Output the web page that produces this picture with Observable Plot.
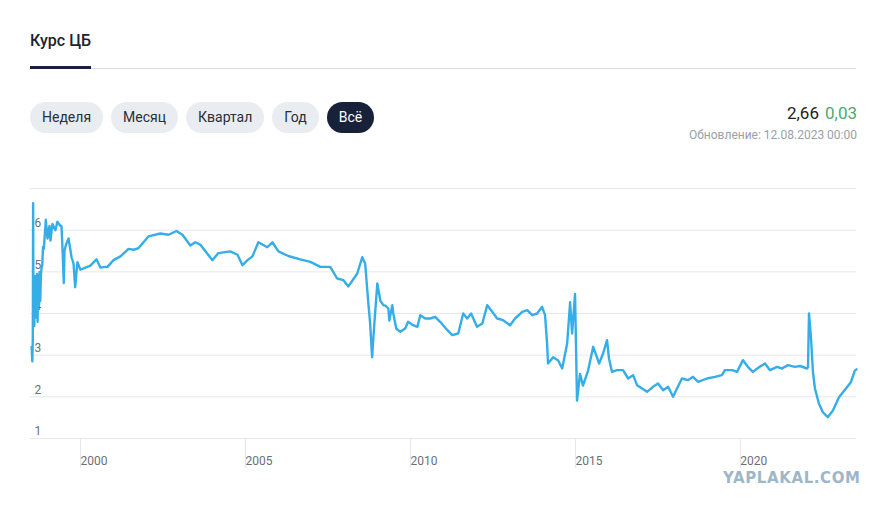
<!DOCTYPE html>
<html><head><meta charset="utf-8">
<script src="https://cdn.jsdelivr.net/npm/d3@7"></script>
<script src="https://cdn.jsdelivr.net/npm/@observablehq/plot@0.6"></script>
<style>
  html,body{margin:0;padding:0;background:#fff;}
  body{width:886px;height:510px;position:relative;overflow:hidden;font-family:Roboto,"Noto Sans",sans-serif;}
  .title{position:absolute;left:30px;top:31px;font-size:16px;font-weight:500;color:#1b2230;}
  .tabbar{position:absolute;left:30px;top:66px;width:61px;height:3px;background:#19223a;}
  .tabline{position:absolute;left:30px;top:68px;width:826px;height:1px;background:#dcdfe3;}
  .btns{position:absolute;left:30px;top:102px;display:flex;gap:8px;}
  .btn{height:31px;line-height:31px;padding:0 12px;border-radius:16px;background:#e9edf1;color:#2a2f38;font-size:14px;}
  .btn.active{background:#17213a;color:#fff;}
  .price{position:absolute;right:29px;top:103px;font-size:17px;color:#222;}
  .price .chg{color:#4caa6e;margin-left:6px;}
  .upd{position:absolute;right:29px;top:128px;font-size:12px;color:#9aa0a8;}
  #chart{position:absolute;left:0;top:180px;}
  .wm{position:absolute;left:723px;top:469px;font-family:"DejaVu Sans",sans-serif;font-weight:bold;font-size:15px;color:#9db7ca;letter-spacing:0.6px;}
</style>
</head><body>
<div class="title">Курс ЦБ</div>
<div class="tabline"></div>
<div class="tabbar"></div>
<div class="btns">
  <div class="btn">Неделя</div><div class="btn">Месяц</div><div class="btn">Квартал</div><div class="btn">Год</div><div class="btn active">Всё</div>
</div>
<div class="price">2,66<span class="chg">0,03</span></div>
<div class="upd">Обновление: 12.08.2023 00:00</div>
<div id="chart"></div>
<div class="wm">YAPLAKAL.COM</div>
<script>
// decimal year of each reading
const years = [
1998.61,1998.63,1998.645,1998.655,1998.665,1998.68,1998.69,1998.705,1998.72,1998.735,
1998.75,1998.77,1998.79,1998.81,1998.83,1998.85,1998.87,1998.89,1998.91,1998.93,
1998.955,1998.98,1999.04,1999.09,1999.15,1999.18,1999.24,1999.33,1999.39,1999.485,
1999.515,1999.546,1999.585,1999.606,1999.65,1999.73,1999.79,1999.82,1999.88,1999.93,
1999.97,2000.0,2000.09,2000.24,2000.39,2000.575,2000.70,2000.85,2000.91,2001.09,
2001.30,2001.545,2001.70,2001.85,2002.15,2002.51,2002.76,2003.00,2003.18,2003.42,
2003.57,2003.725,2004.09,2004.27,2004.63,2004.85,2005.00,2005.15,2005.30,2005.48,
2005.75,2005.905,2006.09,2006.39,2006.75,2007.06,2007.36,2007.66,2007.87,2008.06,
2008.21,2008.48,2008.63,2008.72,2008.81,2008.87,2008.93,2008.99,2009.085,2009.18,
2009.27,2009.33,2009.42,2009.45,2009.54,2009.57,2009.66,2009.78,2009.93,2010.02,
2010.17,2010.30,2010.39,2010.54,2010.69,2010.84,2010.99,2011.21,2011.36,2011.54,
2011.69,2011.81,2011.93,2012.11,2012.27,2012.42,2012.57,2012.72,2012.90,2013.11,
2013.26,2013.48,2013.63,2013.78,2013.93,2014.08,2014.17,2014.23,2014.26,2014.415,
2014.57,2014.69,2014.84,2014.93,2014.99,2015.08,2015.14,2015.23,2015.32,2015.475,
2015.63,2015.81,2015.93,2016.05,2016.11,2016.20,2016.35,2016.535,2016.69,2016.84,
2016.96,2017.11,2017.26,2017.44,2017.595,2017.75,2017.90,2018.05,2018.17,2018.32,
2018.50,2018.655,2018.81,2019.08,2019.32,2019.53,2019.62,2019.84,2019.99,2020.17,
2020.32,2020.47,2020.68,2020.84,2020.99,2021.20,2021.35,2021.53,2021.74,2021.90,
2022.11,2022.14,2022.17,2022.23,2022.29,2022.35,2022.47,2022.59,2022.74,2022.895,
2023.08,2023.29,2023.44,2023.56,2023.61
];
const rates = [
3.2,2.85,3.4,6.65,3.9,4.9,3.7,4.8,3.9,4.9,
4.0,4.95,3.8,4.9,4.2,5.0,4.3,4.9,5.1,5.15,
5.6,5.55,6.25,5.8,6.1,5.75,6.15,6.0,6.2,6.1,
6.1,5.55,4.73,5.5,5.65,5.8,5.5,5.35,5.2,4.63,
5.0,5.23,5.05,5.1,5.15,5.3,5.1,5.12,5.12,5.28,
5.37,5.55,5.53,5.57,5.85,5.92,5.89,5.98,5.89,5.63,
5.71,5.65,5.28,5.45,5.49,5.41,5.16,5.28,5.37,5.71,
5.59,5.71,5.49,5.38,5.30,5.24,5.12,5.12,4.84,4.80,
4.65,4.96,5.35,5.2,4.3,3.76,2.95,3.67,4.72,4.3,
4.2,4.19,4.12,3.83,4.2,4.0,3.64,3.56,3.64,3.80,
3.72,3.68,3.96,3.88,3.88,3.92,3.8,3.6,3.48,3.52,
4.0,3.88,4.0,3.68,3.76,4.2,4.04,3.88,3.84,3.72,
3.88,4.04,4.08,3.96,4.0,4.16,3.96,3.3,2.8,2.95,
2.87,2.68,3.28,4.27,3.52,4.47,1.91,2.55,2.27,2.63,
3.2,2.8,3.04,3.36,2.92,2.6,2.64,2.64,2.44,2.52,
2.28,2.2,2.12,2.24,2.32,2.16,2.24,2.0,2.2,2.44,
2.4,2.48,2.36,2.44,2.48,2.52,2.64,2.64,2.6,2.88,
2.72,2.6,2.72,2.8,2.64,2.72,2.68,2.76,2.72,2.74,
2.68,2.71,4.0,3.43,2.6,2.2,1.84,1.63,1.51,1.67,
1.99,2.2,2.35,2.63,2.66
];
const yTicks = [1,2,3,4,5,6];
const yGrid = [1,2,3,4,5,6,7];
const xTickYears = [2000,2005,2010,2015,2020];
const xDomain = ["1998-07-30","2023-08-12"];

const toDate = y => { const f = Math.floor(y); return new Date(Date.UTC(f,0,1) + (y-f)*365.25*864e5); };
const data = years.map((y,i)=>({date:toDate(y), rate:rates[i]}));
const xTicks = xTickYears.map(y=>new Date(Date.UTC(y,0,1)));

const chart = Plot.plot({
  width: 886,
  height: 300,
  marginTop: 8,
  marginBottom: 42,
  marginLeft: 30,
  marginRight: 30,
  style: {fontFamily: "Roboto, sans-serif", fontSize: "12px", color: "#6b6f75", background: "transparent"},
  x: {type: "utc", domain: xDomain.map(d=>new Date(d))},
  y: {domain: [1,7]},
  marks: [
    Plot.gridY(yGrid, {stroke: "#e4e7eb", strokeOpacity: 1}),
    Plot.axisX({ticks: xTicks, tickSize: 30, tickPadding: -12, textAnchor: "start", dx: 3, stroke: "#e4e7eb", strokeOpacity: 1, tickFormat: d3.utcFormat("%Y"), fill: "#6b6f75", label: null}),
    Plot.axisY({ticks: yTicks, tickSize: 0, tickPadding: 0, textAnchor: "start", dx: 4, dy: -7, fill: "#6b6f75", label: null, tickFormat: d=>String(d)}),
    Plot.lineY(data, {x: "date", y: "rate", stroke: "#35aee8", strokeWidth: 2.4, curve: "linear"})
  ]
});
document.getElementById("chart").appendChild(chart);
</script>
</body></html>
